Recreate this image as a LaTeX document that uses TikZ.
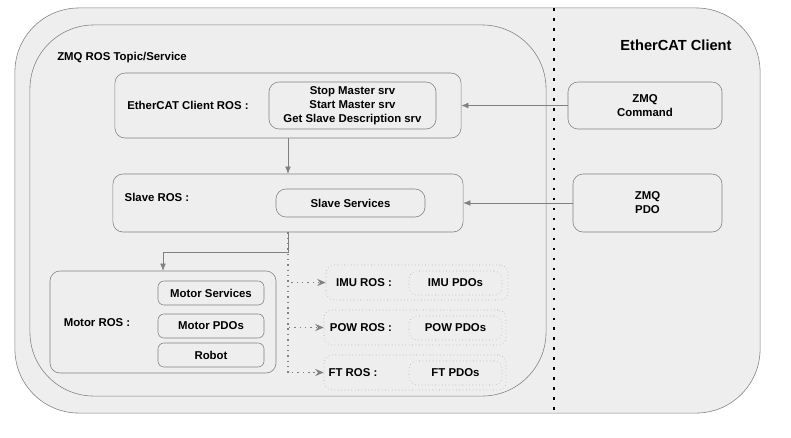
\documentclass[tikz,border=0pt]{standalone}
\usepackage{fontspec}
\setmainfont{Liberation Sans}
\usetikzlibrary{arrows.meta,positioning}

\definecolor{boxfill}{HTML}{EEEEEE}
\definecolor{boxline}{HTML}{808080}
\definecolor{dotline}{HTML}{A8A8A8}

\begin{document}
\begin{tikzpicture}[x=0.025cm, y=-0.025cm,
  every node/.style = {font=\fontsize{8.1}{10}\selectfont\bfseries, align=center},
  area/.style = {draw=boxline, fill=boxfill, rounded corners=1.6cm, inner sep=0pt},
  box/.style = {draw=boxline, fill=boxfill, rounded corners=0.25cm, inner sep=0pt},
  dbox/.style = {draw=dotline, dotted, fill=boxfill, rounded corners=0.2cm, inner sep=0pt},
  lbl/.style = {inner sep=0pt},
  link/.style = {draw=boxline, -{Latex[length=5pt,width=4pt]}},
  dlink/.style = {draw=boxline, line width=0.9pt, dash pattern=on 1pt off 2.8pt,
    -{Stealth[length=6pt,width=5pt,inset=2pt,sep=0pt]}},
  sep/.style = {line width=1.9pt, dash pattern=on 1.9pt off 5.2pt}]
  \useasboundingbox (0,0) rectangle (791,437);

  % the two big areas
  \node[area, minimum width=18.625cm, minimum height=10.125cm] (client) at (387.5,210.5) {};
  \node[area, minimum width=12.9cm, minimum height=9.275cm] (zmqros) at (288,210.5) {};
  \node[lbl, anchor=west] (zmqroslbl) at (57,58) {ZMQ ROS Topic/Service};
  \node[lbl, font=\fontsize{10.4}{12}\selectfont\bfseries] (clientlbl) at (676,45) {EtherCAT Client};

  % separator
  \coordinate (septop) at (554,8);
  \coordinate (sepbot) at (554,410);
  \draw[sep] (septop) -- (sepbot);

  % EtherCAT client ROS
  \node[box, minimum width=8.65cm, minimum height=1.625cm] (ecros) at (288,105.5) {};
  \node[lbl] (ecroslbl) at (188,105) {EtherCAT Client ROS :};
  \node[box, minimum width=4.175cm, minimum height=1.175cm] (ecsrv) at (352.5,105.5)
    {Stop Master srv\\Start Master srv\\Get Slave Description srv};

  % slave ROS
  \node[box, minimum width=8.75cm, minimum height=1.45cm] (slaveros) at (288,203) {};
  \node[lbl] (slaveroslbl) at (157,197) {Slave ROS :};
  \node[box, minimum width=3.725cm, minimum height=0.7cm] (slavesrv) at (350.5,203) {Slave Services};

  % ZMQ side
  \node[box, minimum width=3.85cm, minimum height=1.175cm] (zmqcmd) at (645,105.5) {ZMQ\\Command};
  \node[box, minimum width=3.725cm, minimum height=1.45cm] (zmqpdo) at (647.5,203) {ZMQ\\PDO};

  % motor ROS
  \node[box, minimum width=5.65cm, minimum height=2.55cm] (motorros) at (163,322) {};
  \node[lbl] (motorroslbl) at (97,323) {Motor ROS :};
  \node[box, rounded corners=0.15cm, minimum width=2.65cm, minimum height=0.6cm] (motorsrv) at (211,293) {Motor Services};
  \node[box, rounded corners=0.15cm, minimum width=2.65cm, minimum height=0.6cm] (motorpdo) at (211,326) {Motor PDOs};
  \node[box, rounded corners=0.15cm, minimum width=2.65cm, minimum height=0.6cm] (robot) at (211,355) {Robot};

  % other slaves
  \node[dbox, minimum width=4.55cm, minimum height=0.875cm] (imuros) at (417,282.5) {};
  \node[lbl] (imuroslbl) at (364,283) {IMU ROS :};
  \node[dbox, minimum width=2.325cm, minimum height=0.6cm] (imupdo) at (455.5,283) {IMU PDOs};
  \node[dbox, minimum width=4.55cm, minimum height=0.875cm] (powros) at (415,327.5) {};
  \node[lbl] (powroslbl) at (361,328) {POW ROS :};
  \node[dbox, minimum width=2.325cm, minimum height=0.6cm] (powpdo) at (455.5,328) {POW PDOs};
  \node[dbox, minimum width=4.55cm, minimum height=0.875cm] (ftros) at (415,372.5) {};
  \node[lbl] (ftroslbl) at (353,373) {FT ROS :};
  \node[dbox, minimum width=2.325cm, minimum height=0.6cm] (ftpdo) at (455.5,373) {FT PDOs};

  % connectors
  \draw[link] (ecros) -- (slaveros);
  \draw[link] (zmqcmd) -- (ecros);
  \draw[link] (zmqpdo) -- (slaveros);
  \draw[link] (slaveros.south) -- ++(0,20) -| (motorros.north);
  \draw[dlink] (slaveros.south) |- (imuros.west);
  \draw[dlink] (slaveros.south) |- (powros.west);
  \draw[dlink] (slaveros.south) |- (ftros.west);
\end{tikzpicture}
\end{document}
